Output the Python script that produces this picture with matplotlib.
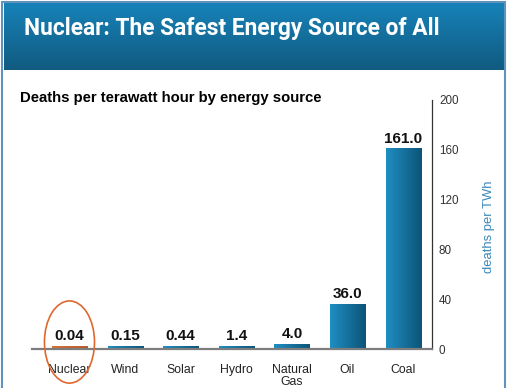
import numpy as np
import matplotlib.pyplot as plt
from matplotlib.patches import Rectangle, Ellipse
from matplotlib.colors import LinearSegmentedColormap

sources = ['Nuclear', 'Wind', 'Solar', 'Hydro', 'Natural\nGas', 'Oil', 'Coal']
deaths = [0.04, 0.15, 0.44, 1.4, 4.0, 36.0, 161.0]
value_labels = ['0.04', '0.15', '0.44', '1.4', '4.0', '36.0', '161.0']
yticks = [0, 40, 80, 120, 160, 200]

W, H = 508, 388
plt.rcParams['font.family'] = ['Liberation Sans', 'DejaVu Sans']

fig = plt.figure(figsize=(W / 100, H / 100), dpi=100)
fig.patch.set_facecolor('white')


def fx(px):
    return px / W


def fy(py):
    return 1 - py / H


# outer frame
fig.patches.append(Rectangle((fx(1.5), fy(395)), fx(503), 393 / H, transform=fig.transFigure,
                             fill=False, edgecolor='#5f93bd', lw=1.5, zorder=0))

# header band with vertical gradient
hax = fig.add_axes([fx(3.5), fy(70), fx(499.5), 67 / H])
grad = np.linspace(0, 1, 100).reshape(-1, 1)
hcmap = LinearSegmentedColormap.from_list('hdr', ['#1782b8', '#115b80'])
hax.imshow(grad, aspect='auto', cmap=hcmap, extent=(0, 1, 0, 1), origin='upper')
hax.set_axis_off()
fig.text(fx(24), fy(35), 'Nuclear: The Safest Energy Source of All', color='white',
         fontsize=16.4, fontweight='bold', family=['Roboto', 'DejaVu Sans'], va='baseline')

fig.text(fx(20), fy(102), 'Deaths per terawatt hour by energy source', color='black',
         fontsize=10.7, fontweight='bold', va='baseline')

ax = fig.add_axes([fx(32), fy(349), fx(400), 249 / H])
x = np.arange(len(sources))
bw = 0.63
bcmap = LinearSegmentedColormap.from_list('bar', ['#1e8ec2', '#0d5478'])
ncmap = LinearSegmentedColormap.from_list('nuc', ['#d8703a', '#b85a2c'])
hgrad = np.linspace(0, 1, 50).reshape(1, -1)
min_h = 2.4  # keep tiny bars visible as thin stubs, as in the source graphic
for xi, v in zip(x, deaths):
    cm = ncmap if xi == 0 else bcmap
    ax.imshow(hgrad, aspect='auto', cmap=cm, extent=(xi - bw / 2, xi + bw / 2, 0, max(v, min_h)),
              origin='lower', zorder=2)

for xi, v, lab in zip(x, deaths, value_labels):
    ax.annotate(lab, (xi, max(v, min_h)), xytext=(0, 2), textcoords='offset points', ha='center',
                va='bottom', fontsize=11, fontweight='bold', color='#111111')

ax.set_xlim(-0.674, 6.52)
ax.set_ylim(0, 200)

# highlight circle around nuclear
ax.add_patch(Ellipse((x[0], 5.6), 0.9, 66, fill=False, edgecolor='#e0682f', lw=1.2,
                     clip_on=False, zorder=4))

ax.set_xticks(x)
ax.set_xticklabels(sources, fontsize=8.8, color='#222222', linespacing=0.95)
ax.tick_params(axis='x', length=0, pad=11)

ax.yaxis.tick_right()
ax.set_yticks(yticks)
ax.set_yticklabels([str(t) for t in yticks], fontsize=8.4, color='#333333')
ax.tick_params(axis='y', length=0, pad=5)
ax.yaxis.set_label_position('right')
ax.set_ylabel('deaths per TWh', fontsize=9.4, color='#3a88b8')
ax.yaxis.set_label_coords(1.1275, 0.49)

for s in ['top', 'left']:
    ax.spines[s].set_visible(False)
ax.spines['bottom'].set_color('#7d7d7d')
ax.spines['bottom'].set_linewidth(1.6)
ax.spines['right'].set_color('#333333')
ax.spines['right'].set_linewidth(0.9)
ax.patch.set_alpha(0)

fig.savefig('out.png', dpi=100)
